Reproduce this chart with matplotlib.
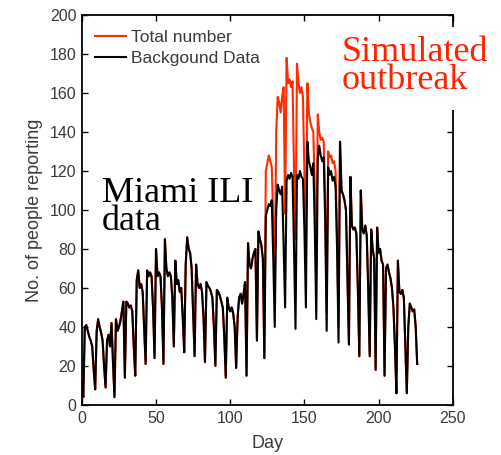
import numpy as np
import matplotlib.pyplot as plt
from matplotlib.patches import Rectangle


## daily counts, day 0 .. 226
days = np.arange(0, 227)

background = [
    12, 4, 40, 41, 38, 35, 33, 30, 18, 8,            # 0-9
    38, 44, 40, 37, 33, 20, 9, 33, 36, 30,           # 10-19
    42, 22, 4, 44, 38, 40, 43, 48, 53, 14,           # 20-29
    53, 52, 50, 51, 48, 30, 15, 64, 69, 60,          # 30-39
    62, 58, 40, 21, 69, 66, 68, 66, 50, 24,          # 40-49
    80, 66, 68, 66, 50, 21, 85, 70, 66, 68,          # 50-59
    66, 55, 30, 74, 62, 64, 58, 60, 45, 27,          # 60-69
    72, 86, 80, 78, 70, 48, 25, 72, 62, 60,          # 70-79
    62, 58, 45, 22, 63, 61, 60, 58, 55, 40,          # 80-89
    20, 59, 58, 56, 53, 50, 35, 14, 55, 50,          # 90-99
    48, 50, 47, 40, 19, 45, 55, 57, 52, 57,          # 100-109
    63, 15, 83, 72, 70, 75, 78, 80, 33, 89,          # 110-119
    85, 82, 75, 24, 97, 100, 103, 102, 105, 75,      # 120-129
    40, 100, 113, 110, 108, 112, 80, 50, 115, 118,   # 130-139
    116, 119, 117, 80, 39, 118, 116, 120, 117, 116,  # 140-149
    90, 50, 135, 125, 122, 118, 124, 90, 44, 126,    # 150-159
    133, 128, 125, 127, 95, 38, 122, 118, 120, 115,  # 160-169
    117, 112, 80, 32, 135, 110, 108, 105, 100, 65,   # 170-179
    31, 117, 92, 90, 91, 88, 60, 25, 110, 90,        # 180-189
    88, 92, 87, 60, 25, 90, 80, 75, 18, 91,          # 190-199
    78, 80, 74, 72, 15, 70, 72, 68, 65, 60,          # 200-209
    50, 30, 6, 74, 58, 57, 59, 55, 30, 6,            # 210-219
    40, 52, 50, 48, 49, 40, 21,                      # 220-226
]

## total number (background + simulated outbreak), only differs on these days
outbreak_start = 123
outbreak_total = [
    24, 120, 124, 128, 125, 122, 95,                 # 123-129
    62, 140, 158, 155, 150, 158, 163, 98, 178, 165,  # 130-139
    167, 163, 166, 120, 85, 175, 165, 160, 163, 158, # 140-149
    120, 80, 165, 150, 145, 142, 140, 110, 65, 149,  # 150-159
    140, 136, 137, 135, 105, 47, 130, 127, 128, 124, # 160-169
    125, 120, 88, 40, 135, 110,                      # 170-175
]

total = list(background)
total[outbreak_start:outbreak_start + len(outbreak_total)] = outbreak_total

xticks = [0, 50, 100, 150, 200, 250]
yticks = [0, 20, 40, 60, 80, 100, 120, 140, 160, 180, 200]

grey = "#3a3a3a"
plt.rcParams["font.family"] = ["Liberation Sans", "DejaVu Sans"]

fig = plt.figure(figsize=(5.02, 4.55), dpi=100)
ax = fig.add_axes([0.163, 0.110, 0.739, 0.857])

ax.plot(days, total, color="#ff2a00", lw=1.5, label="Total number")
ax.plot(days, background, color="black", lw=1.5, label="Backgound Data")

ax.set_xlim(0, 250)
ax.set_ylim(0, 200)
ax.set_xticks(xticks)
ax.set_yticks(yticks)
ax.tick_params(direction="in", length=4, width=1, top=True, right=True,
               labelsize=11.5, colors="black", labelcolor=grey, pad=4)
for s in ax.spines.values():
    s.set_linewidth(1.3)

ax.set_xlabel("Day", fontsize=13, color=grey, labelpad=7)
ax.set_ylabel("No. of people reporting", fontsize=13, color=grey, labelpad=5)

leg = ax.legend(loc="upper left", bbox_to_anchor=(0.035, 0.962), frameon=False,
                borderaxespad=0, borderpad=0, handlelength=1.8, handletextpad=0.3,
                labelspacing=0.35, fontsize=12.5)
for t in leg.get_texts():
    t.set_color(grey)

# annotations on the slide (baseline = last line)
ax.text(0.054, 0.449, "Miami ILI\ndata", transform=ax.transAxes, fontsize=26,
        family="Liberation Serif", va="baseline", ha="left", linespacing=0.8)

ax.add_patch(Rectangle((0.695, 0.756), 0.43, 0.213, transform=ax.transAxes,
                       facecolor="white", edgecolor="none", clip_on=False, zorder=3))
ax.text(0.700, 0.809, "Simulated\noutbreak", transform=ax.transAxes, fontsize=26,
        family="Liberation Serif", color="#ff2200", va="baseline", ha="left",
        linespacing=0.8, zorder=4, clip_on=False)

plt.savefig("out.png", dpi=100)
plt.close()
